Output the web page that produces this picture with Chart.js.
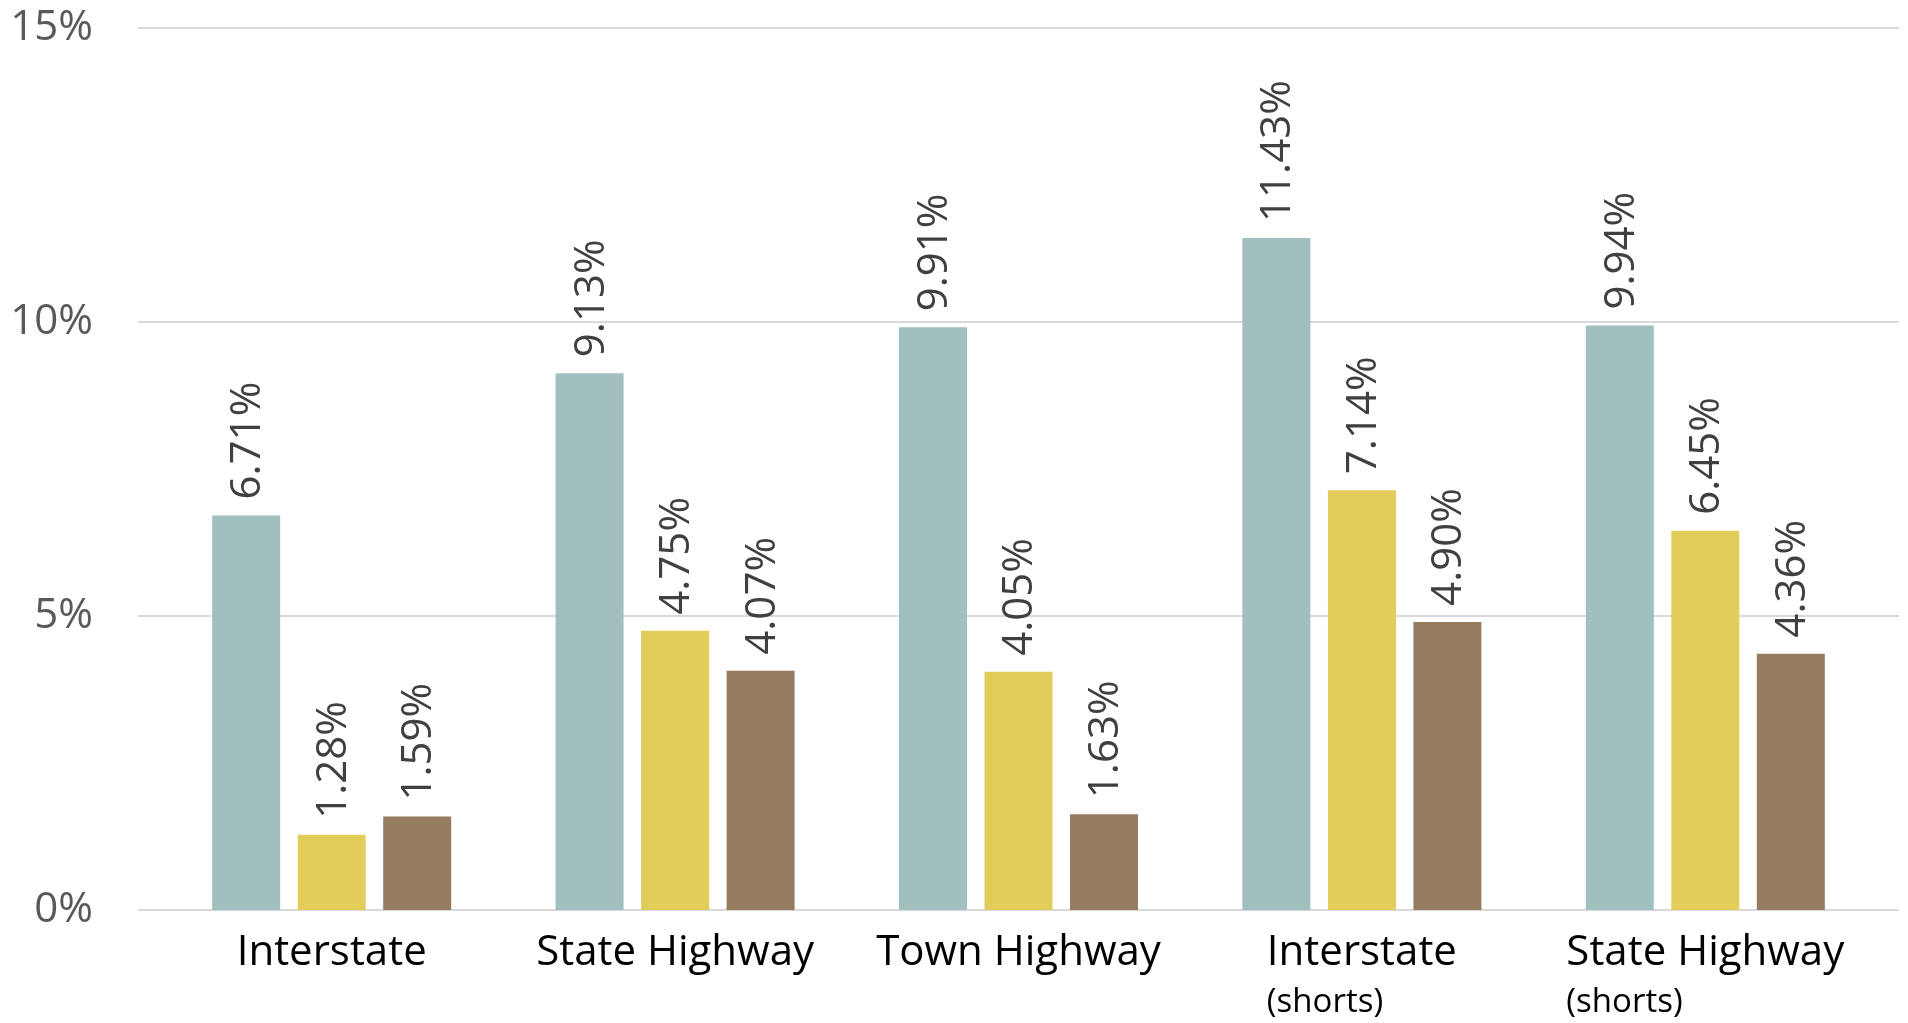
<!DOCTYPE html>
<html>
<head>
<meta charset="utf-8">
<script src="https://cdn.jsdelivr.net/npm/chart.js@4"></script>
<style>
  html, body { margin: 0; padding: 0; background: #fff; }
  #wrap { width: 1908px; height: 1023px; }
</style>
</head>
<body>
<div id="wrap"><canvas id="c" width="1908" height="1023"></canvas></div>
<script>
const categories = ['Interstate', 'State Highway', 'Town Highway', 'Interstate', 'State Highway'];
const subLabels = ['', '', '', '(shorts)', '(shorts)'];
const seriesA = [6.71, 9.13, 9.91, 11.43, 9.94];
const seriesB = [1.28, 4.75, 4.05, 7.14, 6.45];
const seriesC = [1.59, 4.07, 1.63, 4.90, 4.36];
const yTicks = [0, 5, 10, 15];

const FONT = "'Open Sans', 'Noto Sans', sans-serif";

const gridPlugin = {
  id: 'extendedGrid',
  beforeDatasetsDraw(chart) {
    const ctx = chart.ctx, y = chart.scales.y;
    ctx.save();
    ctx.strokeStyle = '#D9D9D9';
    ctx.lineWidth = 2;
    yTicks.forEach(t => {
      const py = Math.round(y.getPixelForValue(t));
      ctx.beginPath();
      ctx.moveTo(138, py);
      ctx.lineTo(1899, py);
      ctx.stroke();
    });
    ctx.restore();
  }
};

const labelPlugin = {
  id: 'barLabels',
  afterDatasetsDraw(chart) {
    const ctx = chart.ctx;
    ctx.save();
    ctx.fillStyle = '#404040';
    ctx.font = "42px " + FONT;
    ctx.textAlign = 'left';
    ctx.textBaseline = 'middle';
    chart.data.datasets.forEach((ds, di) => {
      const meta = chart.getDatasetMeta(di);
      meta.data.forEach((bar, i) => {
        ctx.save();
        ctx.translate(bar.x, bar.y - 16);
        ctx.rotate(-Math.PI / 2);
        ctx.fillText(ds.data[i].toFixed(2) + '%', 0, 2);
        ctx.restore();
      });
    });
    const x = chart.scales.x;
    ctx.fillStyle = '#000000';
    subLabels.forEach((s, i) => {
      if (!s) return;
      ctx.font = "42px " + FONT;
      const w = ctx.measureText(categories[i]).width;
      const left = x.getPixelForValue(i) - w / 2;
      ctx.font = "33px " + FONT;
      ctx.textBaseline = 'alphabetic';
      ctx.fillText(s, left, 1012);
    });
    ctx.restore();
  }
};

new Chart(document.getElementById('c'), {
  type: 'bar',
  data: {
    labels: categories,
    datasets: [
      { label: 'A', data: seriesA, backgroundColor: '#A0BFBE' },
      { label: 'B', data: seriesB, backgroundColor: '#E2CD5B' },
      { label: 'C', data: seriesC, backgroundColor: '#957B60' }
    ]
  },
  options: {
    responsive: false,
    animation: false,
    devicePixelRatio: 1,
    layout: { padding: { left: 0, right: 31, top: 28, bottom: 0 } },
    datasets: { bar: { categoryPercentage: 0.747, barPercentage: 0.795 } },
    plugins: { legend: { display: false }, tooltip: { enabled: false } },
    scales: {
      x: {
        grid: { display: false, drawTicks: false },
        border: { display: false },
        ticks: { color: '#000000', font: { family: FONT, size: 42 }, padding: 18, maxRotation: 0, autoSkip: false },
        afterFit(s) { s.height = 113; s.paddingLeft = 0; s.paddingRight = 0; }
      },
      y: {
        min: 0, max: 15,
        grid: { display: false, drawTicks: false },
        border: { display: false },
        ticks: {
          stepSize: 5, color: '#595959', padding: 67,
          font: { family: FONT, size: 42 },
          callback: v => v + '%'
        },
        afterFit(s) { s.width = 160; s.paddingTop = 0; s.paddingBottom = 0; }
      }
    }
  },
  plugins: [gridPlugin, labelPlugin]
});
</script>
</body>
</html>
